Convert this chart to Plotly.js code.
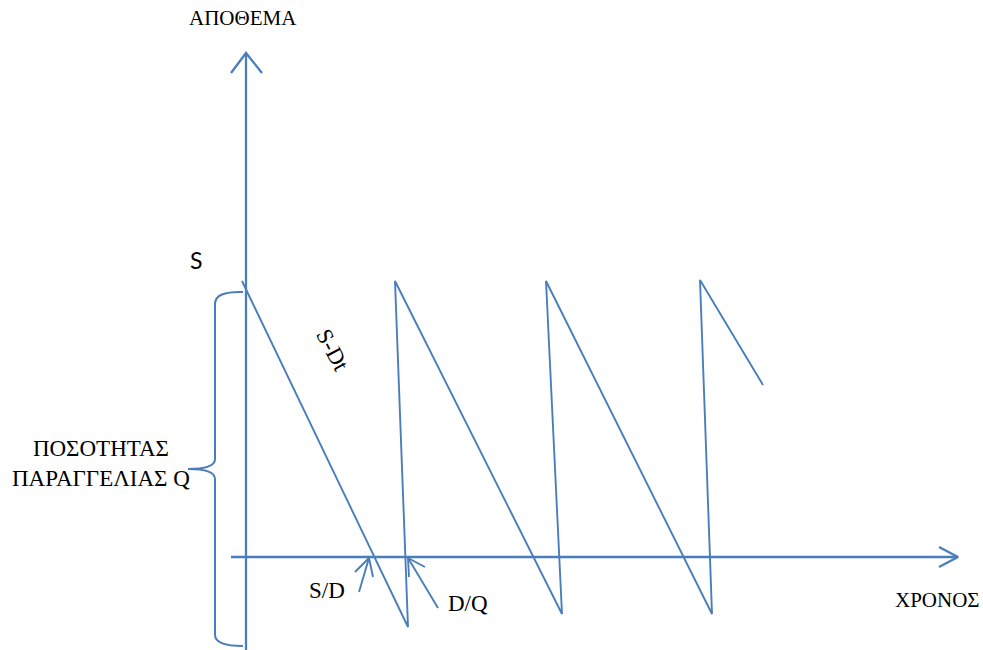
<!DOCTYPE html>
<html>
<head>
<meta charset="utf-8">
<script src="https://cdn.plot.ly/plotly-3.0.1.min.js"></script>
<style>html,body{margin:0;padding:0;background:#fff;}#chart{width:983px;height:650px;}</style>
</head>
<body>
<div id="chart"></div>
<script>
// Sawtooth inventory path (time, stock) — diagram units
var sawTime  = [-4, 162, 149, 316, 300, 466, 454, 517];
var sawStock = [276, -70, 276, -57, 276, -57, 277, 172];

// Axes (time axis and stock axis) with open arrowheads
var yAxisTime  = [0, 0];
var yAxisStock = [-93, 504];
var yHeadTime  = [-15, 0, 16];
var yHeadStock = [484, 504, 484];
var xAxisTime  = [-15, 712];
var xAxisStock = [0, 0];
var xHeadTime  = [693, 712, 693];
var xHeadStock = [10, 0, -10];

// Pointer arrows S/D and D/Q
var sdShaftTime = [113, 123], sdShaftStock = [-35, -1];
var sdHeadTime  = [109, 123, 127], sdHeadStock = [-15, -1, -20];
var dqShaftTime = [192, 162], dqShaftStock = [-51, -1];
var dqHeadTime  = [179, 162, 163], dqHeadStock = [-10, -1, -20];

// Labels
var labelTexts = ['ΑΠΟΘΕΜΑ', 'S', 'ΠΟΣΟΤΗΤΑΣ<br>ΠΑΡΑΓΓΕΛΙΑΣ Q', 'S-Dt', 'S/D', 'D/Q', 'ΧΡΟΝΟΣ'];
var labelTime  = [-3, -50, -145, 87, 81, 222, 691];
var labelStock = [539, 297, 94, 207, -33, -46, -43];
var labelSize  = [21, 23, 23, 23, 23, 23, 21];

var blue = '#4A7EBB';
function ln(x, y, w) {
  return {x: x, y: y, type: 'scatter', mode: 'lines', hoverinfo: 'skip',
          line: {color: blue, width: w}, showlegend: false};
}
var traces = [
  ln(yAxisTime, yAxisStock, 2.3), ln(yHeadTime, yHeadStock, 2.3),
  ln(xAxisTime, xAxisStock, 2.3), ln(xHeadTime, xHeadStock, 2.3),
  ln(sawTime, sawStock, 1.9),
  ln(sdShaftTime, sdShaftStock, 1.9), ln(sdHeadTime, sdHeadStock, 1.9),
  ln(dqShaftTime, dqShaftStock, 1.9), ln(dqHeadTime, dqHeadStock, 1.9)
];

var serif = 'Liberation Serif, Times New Roman, serif';
var annotations = labelTexts.map(function (t, i) {
  var a = {x: labelTime[i], y: labelStock[i], xref: 'x', yref: 'y', text: t,
           showarrow: false, xanchor: 'center', yanchor: 'middle',
           font: {family: serif, size: labelSize[i], color: '#000'}};
  if (t === 'S') a.font.family = 'Lato, Liberation Sans, sans-serif';
  if (t === 'S-Dt') a.textangle = 62;
  return a;
});

// Curly brace spanning order quantity Q
var bracePath = 'M -3 265 Q -31 266 -31 253 L -31 98 Q -31 88 -58 88 Q -31 88 -31 78 ' +
                'L -31 -78 Q -31 -89 -3 -89';

var layout = {
  width: 983, height: 650,
  margin: {l: 0, r: 0, t: 0, b: 0},
  paper_bgcolor: '#fff', plot_bgcolor: '#fff',
  xaxis: {range: [-246, 737], visible: false, fixedrange: true},
  yaxis: {range: [-93, 557], visible: false, fixedrange: true},
  annotations: annotations,
  shapes: [{type: 'path', xref: 'x', yref: 'y', path: bracePath,
            line: {color: blue, width: 2}}]
};
Plotly.newPlot('chart', traces, layout, {staticPlot: true, displayModeBar: false});
</script>
</body>
</html>
